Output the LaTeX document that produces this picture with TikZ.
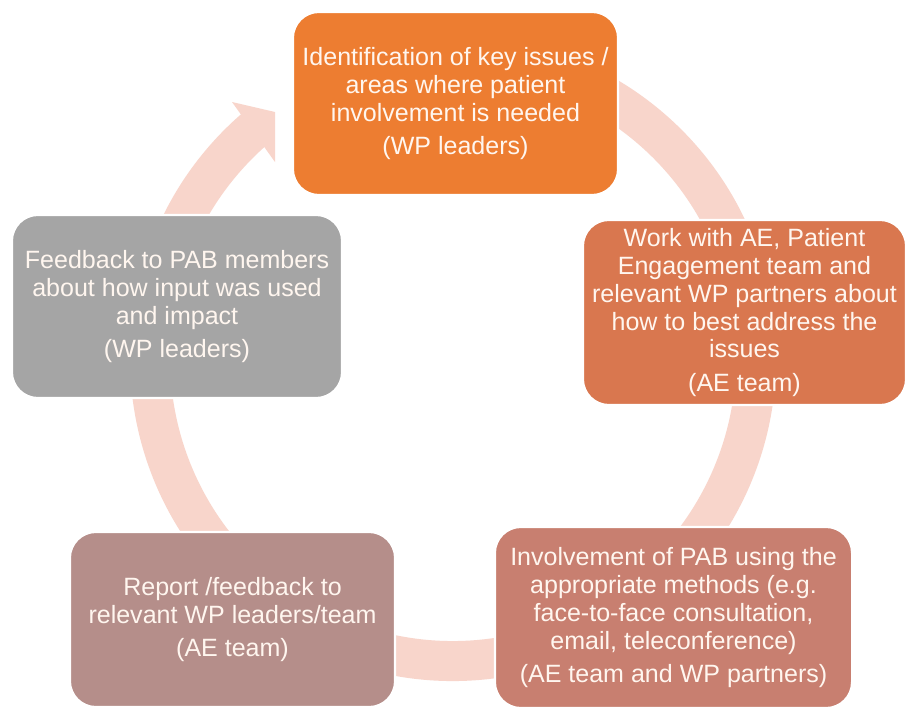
\documentclass[tikz,border=0pt]{standalone}
\usepackage{fontspec}
\setmainfont{Liberation Sans}
\definecolor{ringpink}{HTML}{F8D5CB}
\definecolor{stepone}{HTML}{ED7D31}
\definecolor{steptwo}{HTML}{D9774F}
\definecolor{stepthree}{HTML}{C87F70}
\definecolor{stepfour}{HTML}{B58E8A}
\definecolor{stepfive}{HTML}{A5A5A5}
\definecolor{textcream}{HTML}{FFF6EF}
\tikzset{
  cyclebox/.style={rounded corners=0.65cm, draw=white, line width=1.5pt,
    text=textcream, align=center, inner sep=0pt, outer sep=0pt,
    font=\fontsize{17.8}{19.8}\selectfont},
  ringband/.style={draw=ringpink, line width=1cm, line cap=butt},
}
\begin{document}
\begin{tikzpicture}[x=0.025cm, y=-0.025cm]
\useasboundingbox (0,0) rectangle (908,710);
\fill[white] (0,0) rectangle (908,710);

% circular arrow behind the boxes
\coordinate (c) at (453,358);
\draw[ringband] (c) ++(-100:303) arc[start angle=-100, end angle=230, radius=303];
\coordinate (h1) at (232,102);
\coordinate (h2) at (275,112);
\coordinate (h3) at (275,162);
\fill[ringpink] (h1) -- (h2) -- (h3) -- cycle;

% the five steps of the cycle
\node[cyclebox, fill=stepone, minimum width=8.125cm, minimum height=4.575cm] (s1) at (455.5,103.5)
  {Identification of key issues /\\areas where patient\\involvement is needed\\[4pt](WP leaders)};
\node[cyclebox, fill=steptwo, minimum width=8.075cm, minimum height=4.625cm] (s2) at (744.5,312.5)
  {Work with AE, Patient\\Engagement team and\\relevant WP partners about\\how to best address the\\issues\\[4pt](AE team)};
\node[cyclebox, fill=stepthree, minimum width=8.925cm, minimum height=4.525cm] (s3) at (673.5,617.5)
  {Involvement of PAB using the\\appropriate methods (e.g.\\face-to-face consultation,\\email, teleconference)\\[4pt](AE team and WP partners)};
\node[cyclebox, fill=stepfour, minimum width=8.125cm, minimum height=4.375cm] (s4) at (232.5,619.5)
  {Report /feedback to\\relevant WP leaders/team\\[4pt](AE team)};
\node[cyclebox, fill=stepfive, minimum width=8.25cm, minimum height=4.575cm] (s5) at (177,306.5)
  {Feedback to PAB members\\about how input was used\\and impact\\[4pt](WP leaders)};
\end{tikzpicture}
\end{document}
